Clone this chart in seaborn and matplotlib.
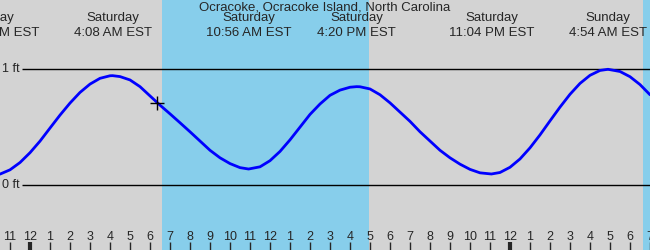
import matplotlib
matplotlib.use("Agg")
import matplotlib.pyplot as plt
import pandas as pd
import seaborn as sns

# hours since Saturday 00:00 EST, tide height in ft (every half hour + extremes)
hours = [-1.5, -1.0, -0.5, 0.0, 0.5, 1.0, 1.5, 2.0, 2.5, 3.0, 3.5, 4.0, 4.13, 4.5, 5.0, 5.5, 6.0,
         6.37, 6.5, 7.0, 7.5, 8.0, 8.5, 9.0, 9.5, 10.0, 10.5, 10.93, 11.5, 12.0, 12.5, 13.0, 13.5,
         14.0, 14.5, 15.0, 15.5, 16.0, 16.33, 16.5, 17.0, 17.5, 18.0, 18.5, 19.0, 19.5, 20.0, 20.5,
         21.0, 21.5, 22.0, 22.5, 23.07, 23.5, 24.0, 24.5, 25.0, 25.5, 26.0, 26.5, 27.0, 27.5, 28.0,
         28.5, 28.9, 29.5, 30.0, 30.5, 31.0]
heights = [0.094, 0.131, 0.194, 0.279, 0.379, 0.492, 0.604, 0.708, 0.80, 0.872, 0.922, 0.944, 0.945,
           0.937, 0.908, 0.85, 0.77, 0.711, 0.69, 0.615, 0.538, 0.46, 0.38, 0.30, 0.235, 0.185,
           0.15, 0.138, 0.157, 0.21, 0.29, 0.39, 0.50, 0.61, 0.70, 0.775, 0.82, 0.845, 0.85, 0.849,
           0.83, 0.78, 0.71, 0.63, 0.55, 0.46, 0.38, 0.30, 0.235, 0.18, 0.135, 0.105, 0.095, 0.108,
           0.153, 0.225, 0.321, 0.433, 0.554, 0.673, 0.784, 0.878, 0.948, 0.99, 1.0, 0.981, 0.936,
           0.868, 0.78]

# high / low tide labels
event_hours = [-1.7, 4.13, 10.93, 16.33, 23.07, 28.9]
event_days = ["Friday", "Saturday", "Saturday", "Saturday", "Saturday", "Sunday"]
event_times = ["10:18 PM EST", "4:08 AM EST", "10:56 AM EST", "4:20 PM EST", "11:04 PM EST", "4:54 AM EST"]

# daylight
sunrise = [6.6, 30.65]
sunset = [16.95, 40.0]

now_hour = 6.37
now_height = 0.711

title = "Ocracoke, Ocracoke Island, North Carolina"
tick_hours = list(range(-1, 32))

sns.set_style("white")
plt.rcParams["font.family"] = ["Liberation Sans", "DejaVu Sans"]

fig = plt.figure(figsize=(6.5, 2.5), dpi=100)
ax = fig.add_axes([0, 0, 1, 1])
ax.set_facecolor("#d3d3d3")
for a, b in zip(sunrise, sunset):
    ax.axvspan(a, b, color="#87ceeb", lw=0, zorder=0)

ax.hlines([0, 1], -0.4, 31, color="black", lw=1, zorder=2)
ax.text(-1.4, 1, "1 ft", ha="left", va="center", fontsize=9)
ax.text(-1.4, 0, "0 ft", ha="left", va="center", fontsize=9)

df = pd.DataFrame({"hour": hours, "ft": heights})
sns.lineplot(data=df, x="hour", y="ft", color="#0000ff", lw=2, ax=ax, zorder=3, sort=False)
ax.plot(now_hour, now_height, marker="+", color="black", ms=10, mew=1, zorder=4)

ax.text(0.5, 0.992, title, transform=ax.transAxes, ha="center", va="top", fontsize=9.5)
for h, d, t in zip(event_hours, event_days, event_times):
    ax.text(h, 1.495, d + "\n" + t, ha="center", va="top", fontsize=9.5, linespacing=1.3)

ax.set_xlim(-1.5, 31.0)
ax.set_ylim(-0.562, 1.599)
ax.set_xticks(tick_hours)
ax.set_xticklabels([str((h - 1) % 12 + 1) for h in tick_hours])
ax.set_yticks([])
ax.tick_params(axis="x", direction="in", length=6, width=1, pad=-13.7, labelsize=9, bottom=True)
for tk, h in zip(ax.xaxis.get_major_ticks(), tick_hours):
    if h % 24 == 0:
        tk.tick1line.set_markeredgewidth(3)
ax.set_xlabel("")
ax.set_ylabel("")
for s in ax.spines.values():
    s.set_visible(False)

fig.savefig("out.png", dpi=100)
